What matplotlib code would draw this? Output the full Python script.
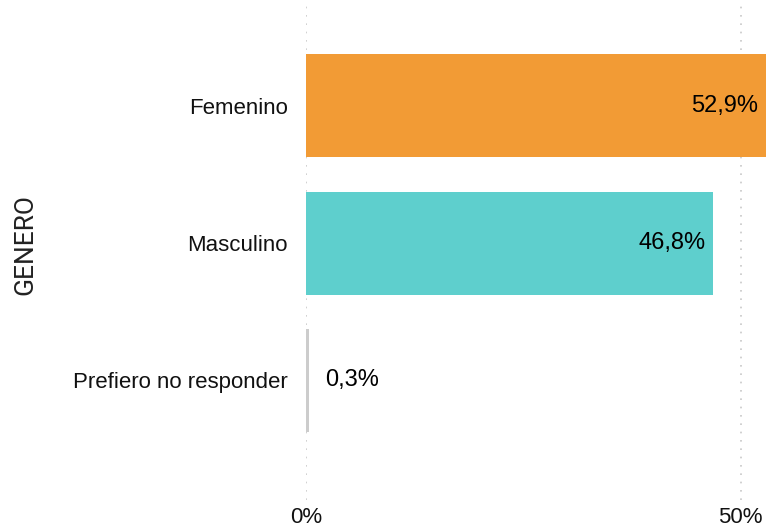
import matplotlib
matplotlib.use("Agg")
import matplotlib.pyplot as plt

categories = ["Femenino", "Masculino", "Prefiero no responder"]
values = [52.9, 46.8, 0.3]
value_labels = ["52,9%", "46,8%", "0,3%"]
colors = ["#f29b35", "#5ecfcd", "#cccccc"]
xticks = [0, 50]
xtick_labels = ["0%", "50%"]

plt.rcParams['font.family'] = ['Liberation Sans', 'DejaVu Sans']

fig = plt.figure(figsize=(7.67, 5.29), dpi=100)
ax = fig.add_axes([306/767, 29/529, 460/767, 500/529])

ypos = list(range(len(categories)))
ax.barh(ypos, values, height=0.75, color=colors, zorder=2)

for y, v, lab in zip(ypos, values, value_labels):
    if v > 10:
        ax.text(v - 0.9, y, lab, ha="right", va="center", fontsize=17, color="#000000", zorder=3)
    else:
        ax.text(v + 1.9, y, lab, ha="left", va="center", fontsize=17, color="#000000", zorder=3)

ax.set_xlim(0, 52.9)
ax.set_ylim(2.87, -0.77)
ax.set_yticks(ypos)
ax.set_yticklabels(categories, fontsize=16, color="#111111")
ax.set_xticks(xticks)
ax.set_xticklabels(xtick_labels, fontsize=16, color="#111111")
ax.tick_params(axis="both", length=0)
ax.tick_params(axis="y", pad=13)
ax.tick_params(axis="x", pad=5)
for s in ax.spines.values():
    s.set_visible(False)
ax.grid(axis="x", linestyle=(0, (1, 4)), color="#c8c8c8", linewidth=1.2, zorder=0)
ax.set_axisbelow(True)

fig.text(25/767, 1 - 245/529, "GENERO", rotation=90, ha="center", va="center",
         fontsize=19, color="#222222", family=["Roboto", "DejaVu Sans"], fontstretch="condensed")

fig.savefig("out.png", dpi=100)
